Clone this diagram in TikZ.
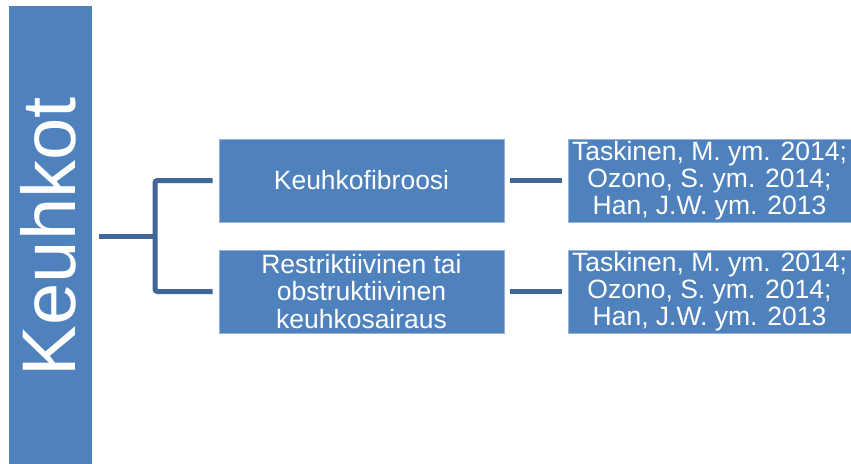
\documentclass[tikz,border=0pt]{standalone}
\usepackage{fontspec}
\setmainfont{Liberation Sans}
\definecolor{boxblue}{HTML}{4F81BD}
\definecolor{linkblue}{HTML}{41679A}
\begin{document}
\begin{tikzpicture}[x=1pt,y=-1pt,
  blockbox/.style={fill=boxblue, draw=boxblue!60!white, line width=0.6pt,
    inner sep=0pt, text=white, align=center,
    font=\fontsize{26.5}{27.3}\selectfont},
  midbox/.style={blockbox, minimum width=285pt, minimum height=83pt},
  refbox/.style={blockbox, minimum width=283pt, minimum height=83pt},
  conn/.style={draw=linkblue, line width=5pt}]
\useasboundingbox (0,0) rectangle (851,463);

% tall category bar and its rotated title
\node[fill=boxblue, inner sep=0pt, minimum width=83pt, minimum height=458pt]
  (lung) at (50.8,234.7) {};
\node[text=white, inner sep=0pt, font=\fontsize{76}{80}\selectfont]
  (lungtitle) at ([xshift=-2pt,yshift=-2pt]lung.center) {\rotatebox{90}{Keuhkot}};

% condition boxes
\node[midbox] (fib) at (361.5,180.5) {Keuhkofibroosi};
\node[midbox] (obs) at (361.5,291.5) {Restriktiivinen tai\\obstruktiivinen\\keuhkosairaus};

% reference boxes
\node[refbox] (ref1) at (709.5,180.5) {Taskinen, M. ym. 2014;\\Ozono, S. ym. 2014;\\Han, J.W. ym. 2013};
\node[refbox] (ref2) at (709.5,291.5) {Taskinen, M. ym. 2014;\\Ozono, S. ym. 2014;\\Han, J.W. ym. 2013};

% bracket from the bar to the two conditions
\coordinate (fork) at (155,236);
\draw[conn] ([xshift=6pt]lung.east |- fork) -- (fork);
\draw[conn, rounded corners=2.5pt] ([xshift=-6pt]fib.west) -| (fork) |- ([xshift=-6pt]obs.west);

% links to the references
\draw[conn] ([xshift=6pt]fib.east) -- ([xshift=-6pt]ref1.west);
\draw[conn] ([xshift=6pt]obs.east) -- ([xshift=-6pt]ref2.west);
\end{tikzpicture}
\end{document}
